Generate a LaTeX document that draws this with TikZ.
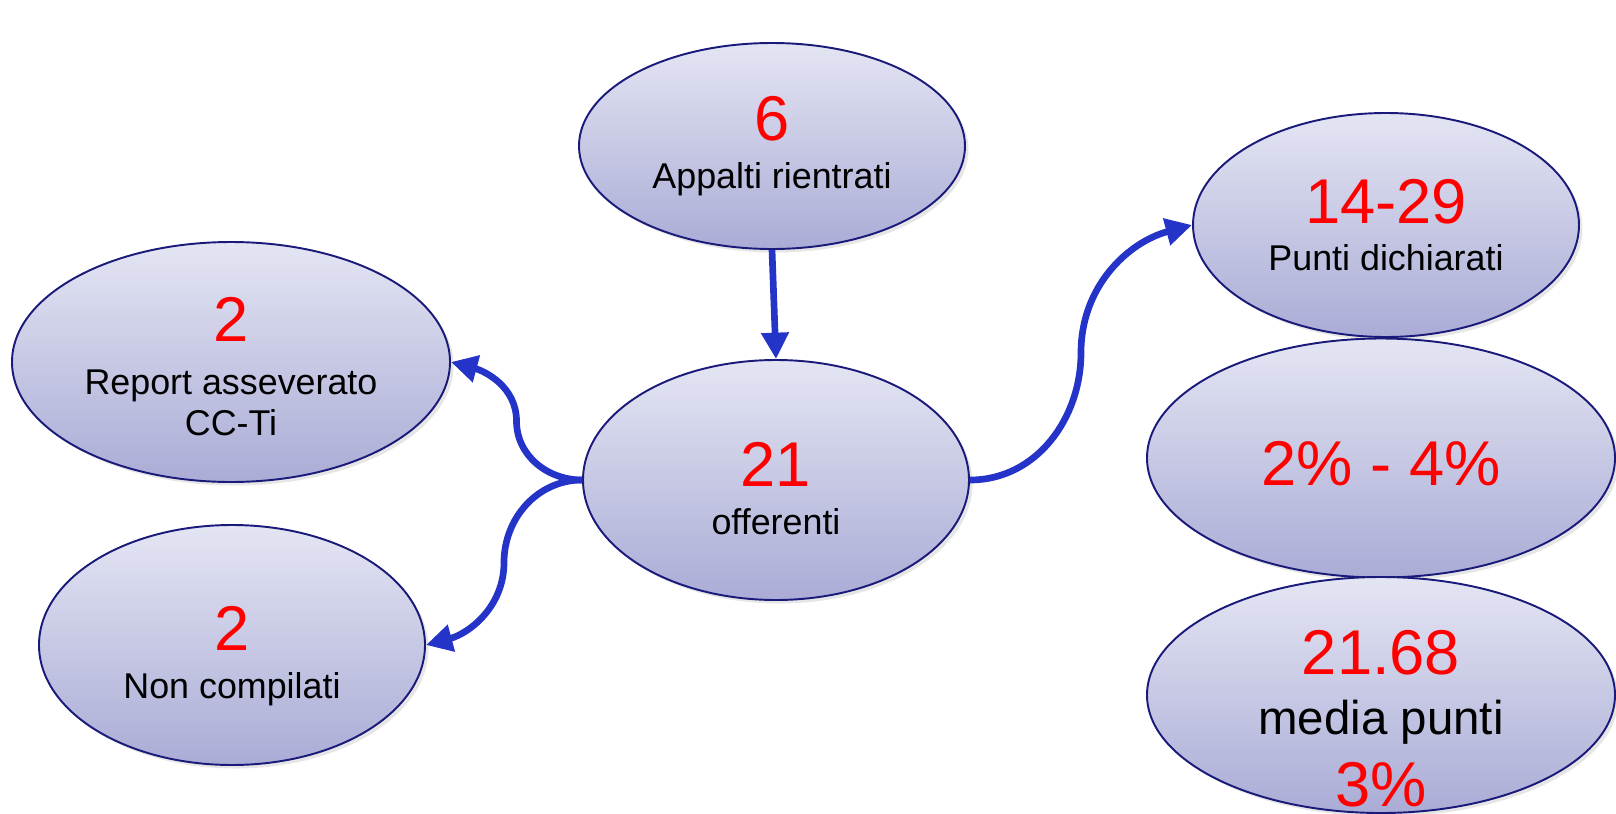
\documentclass[tikz,border=0pt]{standalone}
\usepackage{fontspec}
\setmainfont{Liberation Sans}
\usetikzlibrary{positioning, arrows, arrows.meta, shapes, shadows, calc}
\definecolor{nodetop}{HTML}{E4E5F3}
\definecolor{nodebot}{HTML}{AAACD6}
\definecolor{rimblue}{HTML}{1A1A7A}
\definecolor{linkblue}{HTML}{2433C8}
\newcommand{\bignum}[1]{{\fontsize{18}{18}\selectfont\color{red}#1}}

\begin{document}
\begin{tikzpicture}[font=\fontsize{10.2}{13}\selectfont]
                \tikzstyle{bubble} = [ellipse, draw=rimblue, line width=0.55pt, top color=nodetop, bottom color=nodebot, align=center, inner sep=0pt, drop shadow={opacity=0.2, shadow xshift=1pt, shadow yshift=-1pt}]
                \tikzstyle{arrow} = [line width=1.9pt, draw=linkblue, -{Triangle[length=7.5pt, width=7.5pt]}]

                \useasboundingbox (0,0) rectangle (16.16,8.13);

                % centre and top
                \node[bubble, minimum width=3.86cm, minimum height=2.06cm](app) at (7.72,6.67) {\bignum{6}\\[0.6pt]Appalti rientrati};
                \node[bubble, minimum width=3.86cm, minimum height=2.40cm](off) at (7.76,3.33) {\rule{0pt}{17.6pt}\bignum{21}\\[0.6pt]offerenti};

                % left side
                \node[bubble, minimum width=4.38cm, minimum height=2.40cm](rep) at (2.31,4.51) {\rule{0pt}{15.2pt}\bignum{2}\\[2pt]Report asseverato\\[-1.5pt]CC-Ti};
                \node[bubble, minimum width=3.86cm, minimum height=2.40cm](nonc) at (2.32,1.68) {\rule{0pt}{19pt}\bignum{2}\\[0.6pt]Non compilati};

                % right side
                \node[bubble, minimum width=3.86cm, minimum height=2.24cm](pts) at (13.86,5.88) {\bignum{14-29}\\[0.6pt]Punti dichiarati};
                \node[bubble, minimum width=4.68cm, minimum height=2.39cm](perc) at (13.81,3.55) {\rule{0pt}{15.8pt}\bignum{2\% - 4\%}};
                \node[bubble, minimum width=4.68cm, minimum height=2.36cm, inner ysep=-0.4cm](avg) at (13.81,1.18) {\rule{0pt}{26pt}\bignum{21.68}\\[4pt]{\fontsize{13.5}{13.5}\selectfont media punti}\\[4pt]\bignum{3\%}};

                \draw[arrow] (app.south) -- (off.north);
                % curved links, bent round the midpoint
                \draw[arrow] (off.west) to[out=180, in=-90] ($(off.west)!0.5!(rep.east)$) to[out=90, in=-15] (rep.east);
                \draw[arrow] (off.west) to[out=180, in=90] ($(off.west)!0.5!(nonc.east)$) to[out=-90, in=15] (nonc.east);
                \draw[arrow] (off.east) to[out=0, in=-90] ($(off.east)!0.5!(pts.west)$) to[out=90, in=195] (pts.west);

\end{tikzpicture}
\end{document}
